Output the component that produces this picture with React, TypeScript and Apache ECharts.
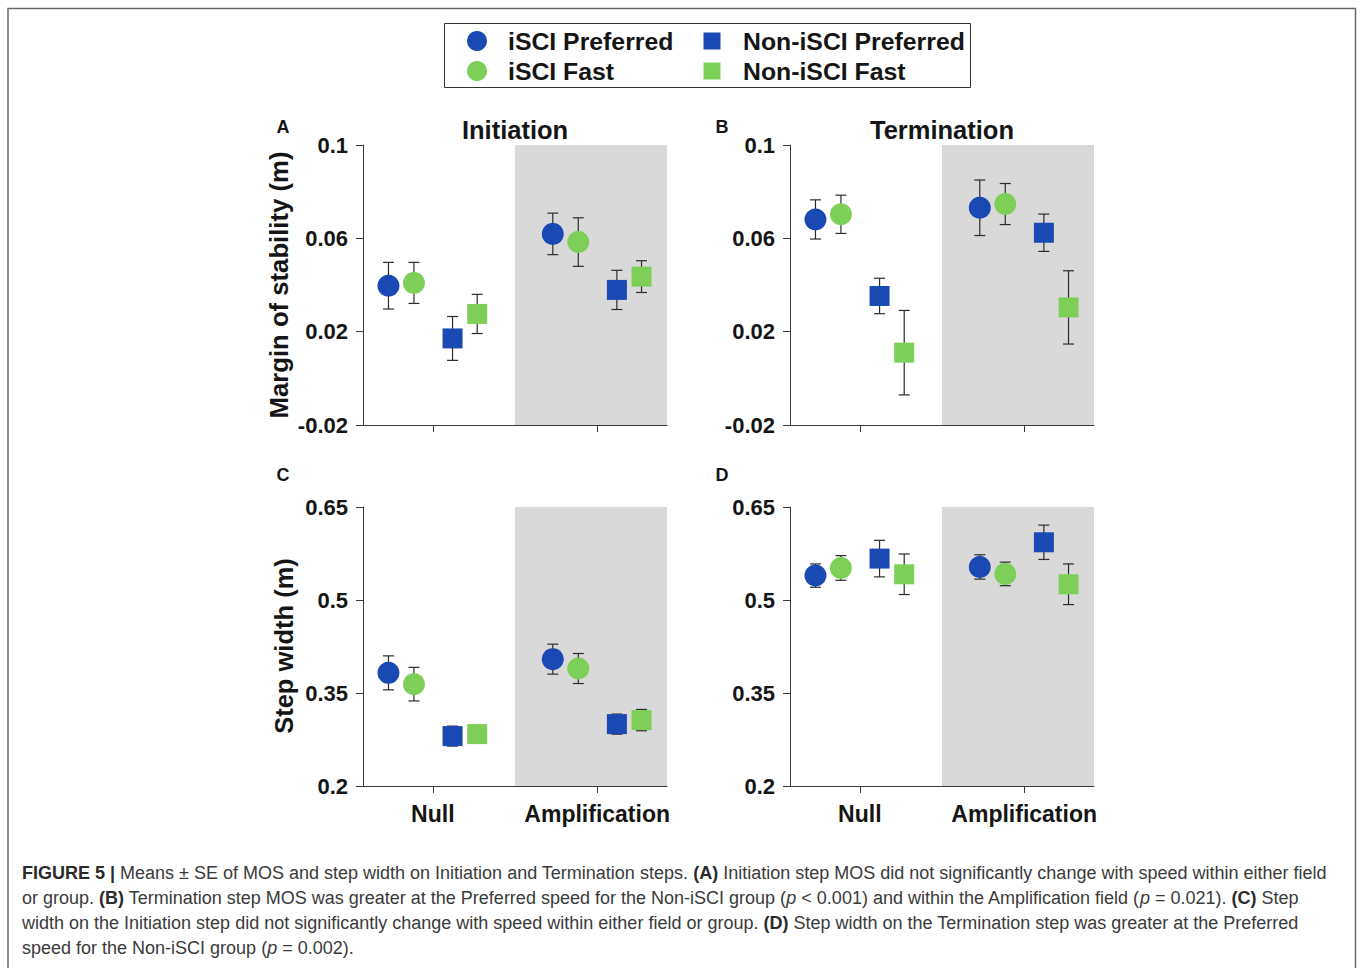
import React, { useEffect, useRef } from "react";
import * as echarts from "echarts";

// ---------- data ----------
const fields = ["Null", "Amplification"];
const groups = ["iSCI Preferred", "iSCI Fast", "Non-iSCI Preferred", "Non-iSCI Fast"];

// Panel A: Initiation MOS (m)  [Null, Amplification]
const initMosMean = [
  [0.0397, 0.0619],
  [0.0409, 0.0584],
  [0.0171, 0.0379],
  [0.0276, 0.0436],
];
const initMosSE = [
  [0.0100, 0.0089],
  [0.0088, 0.0104],
  [0.0094, 0.0084],
  [0.0084, 0.0068],
];
// Panel B: Termination MOS (m)
const termMosMean = [
  [0.0681, 0.0731],
  [0.0703, 0.0747],
  [0.0353, 0.0624],
  [0.0110, 0.0304],
];
const termMosSE = [
  [0.0084, 0.0119],
  [0.0082, 0.0088],
  [0.0076, 0.0080],
  [0.0181, 0.0157],
];
// Panel C: Initiation step width (m)
const initSwMean = [
  [0.3825, 0.4046],
  [0.3643, 0.3895],
  [0.2805, 0.2998],
  [0.2837, 0.3063],
];
const initSwSE = [
  [0.0274, 0.0242],
  [0.0271, 0.0242],
  [0.0161, 0.0162],
  [0.0120, 0.0172],
];
// Panel D: Termination step width (m)
const termSwMean = [
  [0.5394, 0.5533],
  [0.5517, 0.5421],
  [0.5668, 0.5931],
  [0.5415, 0.5254],
];
const termSwSE = [
  [0.0188, 0.0196],
  [0.0199, 0.0190],
  [0.0295, 0.0277],
  [0.0327, 0.0328],
];

const mosTicks = [-0.02, 0.02, 0.06, 0.1];
const swTicks = [0.2, 0.35, 0.5, 0.65];

const captionLines = [
  "{b|FIGURE 5 |} Means ± SE of MOS and step width on Initiation and Termination steps. {b|(A)} Initiation step MOS did not significantly change with speed within either field",
  "or group. {b|(B)} Termination step MOS was greater at the Preferred speed for the Non-iSCI group ({i|p} < 0.001) and within the Amplification field ({i|p} = 0.021). {b|(C)} Step",
  "width on the Initiation step did not significantly change with speed within either field or group. {b|(D)} Step width on the Termination step was greater at the Preferred",
  "speed for the Non-iSCI group ({i|p} = 0.002).",
];

// ---------- styling / layout ----------
const BLUE = "#1a49b3";
const GREEN = "#7dcf58";
const groupColors = [BLUE, GREEN, BLUE, GREEN];
const groupSymbols = ["circle", "circle", "rect", "rect"];
const groupSizes = [22, 22, 20, 20];
const groupOffsets = [-0.27, -0.115, 0.12, 0.27];
const X_MIN = 0.575;
const X_MAX = 2.425;
const SHADE_FROM = 1.5;
const FONT = "'Liberation Sans', Arial, Helvetica, sans-serif";
const AXIS_COLOR = "#3a3a3a";
const TEXT_COLOR = "#151515";
const CAPTION_SIZE = 18;

const panels = [
  { mean: initMosMean, se: initMosSE, ticks: mosTicks, left: 363, top: 145, height: 280, xLabels: false },
  { mean: termMosMean, se: termMosSE, ticks: mosTicks, left: 790, top: 145, height: 280, xLabels: false },
  { mean: initSwMean, se: initSwSE, ticks: swTicks, left: 363, top: 507, height: 279, xLabels: true },
  { mean: termSwMean, se: termSwSE, ticks: swTicks, left: 790, top: 507, height: 279, xLabels: true },
];

function fmt(v: number) {
  return String(parseFloat(v.toFixed(4)));
}

function buildOption() {
  const grid: any[] = [];
  const xAxis: any[] = [];
  const yAxis: any[] = [];
  const series: any[] = [];

  panels.forEach((p, pi) => {
    grid.push({ left: p.left, top: p.top, width: 304, height: p.height, containLabel: false });
    xAxis.push({
      gridIndex: pi,
      type: "value",
      min: X_MIN,
      max: X_MAX,
      splitLine: { show: false },
      axisLine: { show: true, onZero: false, lineStyle: { color: AXIS_COLOR, width: 1 } },
      axisTick: { show: true, customValues: [1, 2], length: 7, inside: false, lineStyle: { color: AXIS_COLOR } },
      axisLabel: {
        show: p.xLabels,
        customValues: [1, 2],
        formatter: (v: number) => fields[Math.round(v) - 1],
        fontFamily: FONT,
        fontSize: 23,
        fontWeight: "bold",
        color: TEXT_COLOR,
        margin: 16,
      },
    });
    yAxis.push({
      gridIndex: pi,
      type: "value",
      min: p.ticks[0],
      max: p.ticks[p.ticks.length - 1],
      splitLine: { show: false },
      axisLine: { show: true, onZero: false, lineStyle: { color: AXIS_COLOR, width: 1 } },
      axisTick: { show: true, customValues: p.ticks, length: 7, lineStyle: { color: AXIS_COLOR } },
      axisLabel: {
        customValues: p.ticks,
        formatter: (v: number) => fmt(v),
        fontFamily: FONT,
        fontSize: 22,
        fontWeight: "bold",
        color: TEXT_COLOR,
        margin: 15,
      },
    });

    // shaded Amplification field
    series.push({
      type: "custom",
      xAxisIndex: pi,
      yAxisIndex: pi,
      silent: true,
      z: 0,
      clip: false,
      data: [[SHADE_FROM, X_MAX, p.ticks[0]]],
      encode: { x: [0, 1], y: 2 },
      renderItem: (params: any, api: any) => {
        const cs = params.coordSys;
        const x1 = api.coord([api.value(0), api.value(2)])[0];
        const x2 = api.coord([api.value(1), api.value(2)])[0];
        return {
          type: "rect",
          shape: { x: x1, y: cs.y, width: x2 - x1, height: cs.height },
          style: { fill: "#d9d9d9" },
        };
      },
    });

    // error bars
    const ebData: number[][] = [];
    groups.forEach((g, gi) => {
      fields.forEach((f, fi) => {
        const m = p.mean[gi][fi];
        const s = p.se[gi][fi];
        ebData.push([fi + 1 + groupOffsets[gi], m - s, m + s]);
      });
    });
    series.push({
      type: "custom",
      xAxisIndex: pi,
      yAxisIndex: pi,
      silent: true,
      z: 2,
      data: ebData,
      encode: { x: 0, y: [1, 2] },
      renderItem: (params: any, api: any) => {
        const x = api.value(0);
        const lo = api.coord([x, api.value(1)]);
        const hi = api.coord([x, api.value(2)]);
        const hw = 5.5;
        const st = { stroke: "#2b2b2b", lineWidth: 1.2 };
        return {
          type: "group",
          children: [
            { type: "line", shape: { x1: hi[0], y1: hi[1], x2: lo[0], y2: lo[1] }, style: st },
            { type: "line", shape: { x1: hi[0] - hw, y1: hi[1], x2: hi[0] + hw, y2: hi[1] }, style: st },
            { type: "line", shape: { x1: lo[0] - hw, y1: lo[1], x2: lo[0] + hw, y2: lo[1] }, style: st },
          ],
        };
      },
    });

    // means
    groups.forEach((g, gi) => {
      series.push({
        type: "scatter",
        name: g,
        xAxisIndex: pi,
        yAxisIndex: pi,
        z: 3,
        symbol: groupSymbols[gi],
        symbolSize: groupSizes[gi],
        itemStyle: { color: groupColors[gi], opacity: 1 },
        data: fields.map((f, fi) => [fi + 1 + groupOffsets[gi], p.mean[gi][fi]]),
      });
    });
  });

  const boldText = (text: string, x: number, y: number, size: number, extra: any = {}) => ({
    type: "text",
    x,
    y,
    ...extra,
    style: {
      text,
      fill: TEXT_COLOR,
      font: `bold ${size}px ${FONT}`,
      align: "center",
      verticalAlign: "middle",
    },
  });

  const graphic: any[] = [
    // figure frame
    {
      type: "polyline",
      shape: { points: [[8, 980], [8, 8.5], [1355.5, 8.5], [1355.5, 980]] },
      style: { stroke: "#6a6a6a", lineWidth: 1.5, fill: "none" },
    },
    // legend
    {
      type: "rect",
      shape: { x: 444.5, y: 23.5, width: 526, height: 64 },
      style: { stroke: "#333", lineWidth: 1, fill: "#fff" },
    },
    { type: "circle", shape: { cx: 477, cy: 41, r: 10 }, style: { fill: BLUE } },
    { type: "circle", shape: { cx: 477, cy: 71, r: 10 }, style: { fill: GREEN } },
    { type: "rect", shape: { x: 703.5, y: 32.5, width: 17, height: 17 }, style: { fill: BLUE } },
    { type: "rect", shape: { x: 703.5, y: 62.5, width: 17, height: 17 }, style: { fill: GREEN } },
    ...[
      [groups[0], 508, 41],
      [groups[1], 508, 71],
      [groups[2], 743, 41],
      [groups[3], 743, 71],
    ].map(([t, x, y]) => ({
      type: "text",
      x,
      y,
      style: { text: t, fill: TEXT_COLOR, font: `bold 24.8px ${FONT}`, align: "left", verticalAlign: "middle" },
    })),
    // titles
    boldText("Initiation", 515, 130, 25.5),
    boldText("Termination", 942, 130, 25.5),
    // panel letters
    boldText("A", 283, 127, 18),
    boldText("B", 722, 127, 18),
    boldText("C", 283, 475, 18),
    boldText("D", 722, 475, 18),
    // y axis names
    boldText("Margin of stability (m)", 279, 285, 25.7, { rotation: Math.PI / 2 }),
    boldText("Step width (m)", 284, 646, 25.5, { rotation: Math.PI / 2 }),
    // caption
    ...captionLines.map((line, i) => ({
      type: "text",
      x: 22,
      y: 873 + i * 25,
      style: {
        text: line,
        fill: "#3a3a3a",
        fontFamily: FONT,
        fontSize: CAPTION_SIZE,
        align: "left",
        verticalAlign: "middle",
        rich: {
          b: { fontWeight: "bold", fontFamily: FONT, fontSize: CAPTION_SIZE, fill: "#2a2a2a" },
          i: { fontStyle: "italic", fontFamily: FONT, fontSize: CAPTION_SIZE, fill: "#3a3a3a" },
        },
      },
    })),
  ];

  return {
    animation: false,
    backgroundColor: "#ffffff",
    grid,
    xAxis,
    yAxis,
    series,
    graphic,
  };
}

export default function App() {
  const ref = useRef<HTMLDivElement>(null);
  useEffect(() => {
    if (!ref.current) return;
    const chart = echarts.init(ref.current, null, { renderer: "svg" });
    chart.setOption(buildOption() as any);
    return () => chart.dispose();
  }, []);
  return (
    <div
      ref={ref}
      style={{ position: "absolute", left: 0, top: 0, width: 1360, height: 968, background: "#fff" }}
    />
  );
}
